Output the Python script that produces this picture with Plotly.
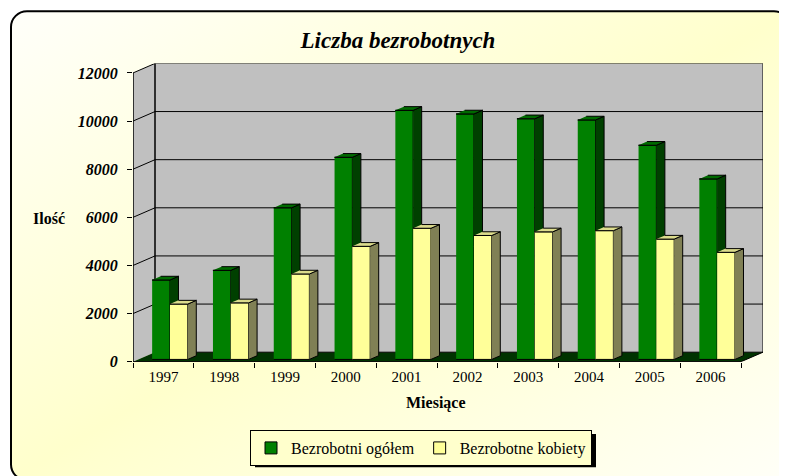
import base64
import plotly.graph_objects as go

# ---- data ----
years = ["1997", "1998", "1999", "2000", "2001", "2002", "2003", "2004", "2005", "2006"]
ogolem = [3300, 3700, 6300, 8400, 10350, 10200, 10000, 9950, 8900, 7500]
kobiety = [2300, 2350, 3550, 4700, 5450, 5150, 5300, 5350, 5000, 4450]
y_ticks = [0, 2000, 4000, 6000, 8000, 10000, 12000]
series_names = ["Bezrobotni ogółem", "Bezrobotne kobiety"]

OFF = 8                      # page body margin
VS = 0.977                   # observed vertical scale of the capture
W, H = 787 - OFF, 480
N = len(years)
YMAX = 12000
PX_PER_UNIT = 288 / YMAX
DX = 22 / 60.8
DY = 9.5 / PX_PER_UNIT
BDX = 0.14
BDY = 3.7 / PX_PER_UNIT
BASE = 2.3 / PX_PER_UNIT
BW = 0.293
X0 = 0.315

FONT = "Liberation Serif"


def fx(x):
    return x - OFF


def fy(y):
    return y / VS - OFF


def px(x):
    return fx(x) / W


def py(y):
    return 1 - fy(y) / H


fig = go.Figure()


def poly(xs, ys, fill):
    fig.add_trace(go.Scatter(x=xs, y=ys, mode="lines", fill="toself", fillcolor=fill,
                             line=dict(color="black", width=1), hoverinfo="skip",
                             showlegend=False))


# walls and floor
poly([0, 0, DX, DX, None, DX, DX, N + DX, N + DX],
     [0, YMAX, YMAX + DY, DY, None, DY, YMAX + DY, YMAX + DY, DY], "#C0C0C0")
poly([0, N, N + DX, DX], [0, 0, DY, DY], "#003300")

# gridlines on side and back walls
gx, gy = [], []
for v in y_ticks[1:-1]:
    gx += [0, DX, N + DX, None]
    gy += [v, v + DY, v + DY, None]
fig.add_trace(go.Scatter(x=gx, y=gy, mode="lines", line=dict(color="black", width=1),
                         hoverinfo="skip", showlegend=False))


def bars(values, offset, front, side, top):
    fxs, fys, sx, sy, tx, ty = [], [], [], [], [], []
    for i, v in enumerate(values):
        a = i + offset
        b = a + BW
        t = BASE + v
        fxs += [a, b, b, a, None]
        fys += [BASE, BASE, t, t, None]
        sx += [b, b + BDX, b + BDX, b, None]
        sy += [BASE, BASE + BDY, t + BDY, t, None]
        tx += [a, b, b + BDX, a + BDX, None]
        ty += [t, t, t + BDY, t + BDY, None]
    poly(fxs, fys, front)
    poly(sx, sy, side)
    poly(tx, ty, top)


bars(ogolem, X0, "#008000", "#004000", "#006A00")
bars(kobiety, X0 + BW, "#FFFF99", "#808055", "#DCDC8C")

# front edges
fig.add_trace(go.Scatter(x=[0, 0], y=[YMAX, 0], mode="lines",
                         line=dict(color="black", width=1), hoverinfo="skip", showlegend=False))
fig.add_trace(go.Scatter(x=[0, N], y=[0, 0], mode="lines",
                         line=dict(color="black", width=1.5), hoverinfo="skip", showlegend=False))

# legend entries
fig.add_trace(go.Bar(x=[None], y=[None], name=series_names[0],
                     marker=dict(color="#008000", line=dict(color="black", width=1))))
fig.add_trace(go.Bar(x=[None], y=[None], name=series_names[1],
                     marker=dict(color="#FFFF99", line=dict(color="black", width=1))))

# background panel (rounded frame with diagonal gradient)
rx0, ry0, rx1, ry1 = fx(11), fy(11), fx(790), fy(478)
svg = ("<svg xmlns='http://www.w3.org/2000/svg' width='%d' height='%d' viewBox='0 0 %d %d' "
       "preserveAspectRatio='none'>"
       "<defs><linearGradient id='g' x1='0' y1='0' x2='1' y2='1'>"
       "<stop offset='0' stop-color='#FFFFFA'/><stop offset='0.5' stop-color='#FFFFCC'/>"
       "<stop offset='1' stop-color='#FFFFF8'/></linearGradient></defs>"
       "<rect x='%.1f' y='%.1f' width='%.1f' height='%.1f' rx='16' ry='16' fill='url(#g)' "
       "stroke='black' stroke-width='2'/></svg>") % (
    W, H, W, H, rx0, ry0, rx1 - rx0, ry1 - ry0)
uri = "data:image/svg+xml;base64," + base64.b64encode(svg.encode()).decode()

LEG_X0, LEG_Y0 = 250, 428
LEG_W, LEG_H = 341, 33

fig.update_layout(
    width=W, height=H,
    margin=dict(l=0, r=0, t=0, b=0),
    paper_bgcolor="white",
    plot_bgcolor="rgba(0,0,0,0)",
    showlegend=True,
    title=dict(text="Liczba bezrobotnych", x=px(398), y=py(39), xanchor="center", yanchor="middle",
               font=dict(family=FONT, size=23, color="black", weight="bold", style="italic")),
    xaxis=dict(domain=[px(133), px(763)], range=[0, N + DX], showgrid=False, zeroline=False,
               showline=False, tickmode="array", tickvals=[i + 0.5 for i in range(N)],
               ticktext=years, ticks="", ticklabelstandoff=4,
               tickfont=dict(family=FONT, size=15, color="black"),
               minor=dict(tickmode="array", tickvals=list(range(N + 1)), ticks="outside",
                          ticklen=5, tickcolor="black", tickwidth=1, showgrid=False),
               fixedrange=True),
    yaxis=dict(domain=[py(360), py(63)], range=[0, YMAX + DY], showgrid=False, zeroline=False,
               showline=False, tickmode="array", tickvals=y_ticks,
               ticktext=[str(v) for v in y_ticks], ticks="outside", ticklen=5,
               tickcolor="black", ticklabelstandoff=6,
               tickfont=dict(family=FONT, size=16, color="black", weight="bold", style="italic"),
               fixedrange=True),
    legend=dict(orientation="h", x=px(LEG_X0), y=py(LEG_Y0), xanchor="left", yanchor="top",
                bgcolor="#FFFFCC", bordercolor="black", borderwidth=1, itemwidth=30,
                font=dict(family=FONT, size=16, color="black"), itemclick=False,
                itemdoubleclick=False),
    images=[dict(source=uri, xref="paper", yref="paper", x=0, y=1, sizex=1, sizey=1,
                 xanchor="left", yanchor="top", sizing="stretch", layer="below")],
    shapes=[dict(type="rect", xref="paper", yref="paper",
                 x0=px(LEG_X0 + 5), x1=px(LEG_X0 + LEG_W + 5),
                 y0=py(LEG_Y0 + LEG_H + 4), y1=py(LEG_Y0 + 4),
                 fillcolor="black", line=dict(width=0), layer="below")],
    annotations=[
        dict(text="Ilość", x=px(49), y=py(217), xref="paper", yref="paper", showarrow=False,
             xanchor="center", yanchor="middle",
             font=dict(family=FONT, size=16, color="black", weight="bold")),
        dict(text="Miesiące", x=px(436), y=py(401), xref="paper", yref="paper", showarrow=False,
             xanchor="center", yanchor="middle",
             font=dict(family=FONT, size=16, color="black", weight="bold")),
    ],
)

fig.write_html("out.html")
